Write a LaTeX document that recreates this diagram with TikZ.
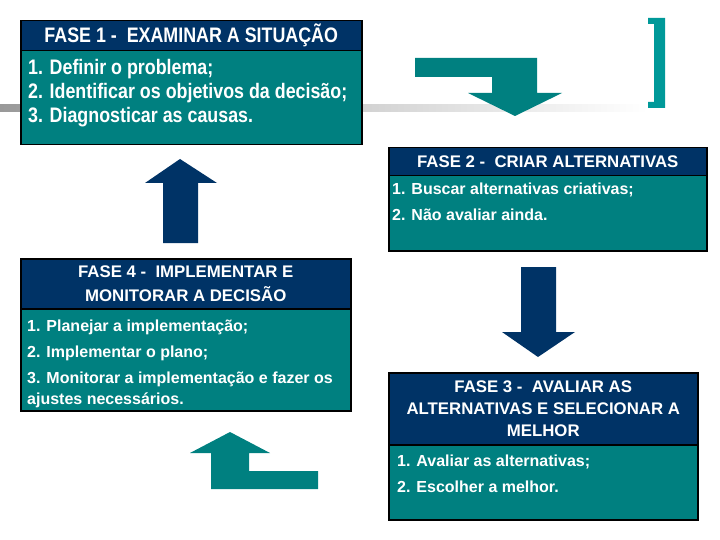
\documentclass[tikz,border=0pt]{standalone}
\usepackage{fontspec}
\setmainfont{Liberation Sans}
\newfontfamily\narrowsans[FakeStretch=0.85]{Liberation Sans}
\usepackage{tikz}
\usepackage{xcolor}
\definecolor{fasenavy}{RGB}{0,51,102}
\definecolor{faseteal}{RGB}{0,128,128}
\definecolor{bracketteal}{RGB}{0,153,153}

\begin{document}
\begin{tikzpicture}[x=1pt,y=-1pt]
			\useasboundingbox (0,0) rectangle (720,540);
			\tikzstyle{head}=[draw=black,line width=1.5pt,fill=fasenavy,text=white,inner sep=0pt,anchor=north west,align=center,font=\bfseries\fontsize{16.8}{22}\selectfont]
			\tikzstyle{body}=[draw=black,line width=1.5pt,fill=faseteal,inner sep=0pt,anchor=north west]
			\tikzstyle{listtext}=[inner sep=0pt,anchor=north west,align=left,text=white,font=\bfseries\fontsize{16}{21}\selectfont]
			% faded rule and bracket
			\shade[left color=black!40, right color=white] (0,105) rectangle (648,112);
			\fill[bracketteal] (648,18) -- (665,18) -- (665,108) -- (648,108) -- (648,102) -- (654,102) -- (654,24) -- (648,24) -- cycle;
			% block arrows
			\fill[faseteal] (415,58) -- (537,58) -- (537,93) -- (562,93) -- (515,116) -- (468,93) -- (492,93) -- (492,77) -- (415,77) -- cycle;%1->2
			\fill[fasenavy] (521,267) -- (556,267) -- (556,332) -- (575,332) -- (538,357) -- (502,332) -- (521,332) -- cycle;%2->3
			\fill[faseteal] (230,432) -- (270,453) -- (249,453) -- (249,471) -- (318,471) -- (318,489) -- (211,489) -- (211,453) -- (190,453) -- cycle;%3->4
			\fill[fasenavy] (180,159) -- (217,183) -- (198,183) -- (198,243) -- (163,243) -- (163,183) -- (145,183) -- cycle;%4->1
			% fase 1
			\node[head,minimum width=341,minimum height=30,font=\narrowsans\bfseries\fontsize{21}{22}\selectfont] (h1) at (20,20) {FASE 1 -\ \ EXAMINAR A SITUAÇÃO};
			\node[body,minimum width=341,minimum height=94] (b1) at (20,50) {};
			\node[listtext,font=\narrowsans\bfseries\fontsize{21}{24}\selectfont] (t1) at ([xshift=8pt,yshift=-9pt]b1.north west) {1. Definir o problema;\\2. Identificar os objetivos da decisão;\\3. Diagnosticar as causas.};
			% fase 2
			\node[head,minimum width=318,minimum height=28] (h2) at (388,147) {FASE 2 -\ \ CRIAR ALTERNATIVAS};
			\node[body,minimum width=318,minimum height=75] (b2) at (388,175) {};
			\node[listtext] (t2) at ([xshift=4pt,yshift=-8pt]b2.north west) {1. Buscar alternativas criativas;\\[5pt]2. Não avaliar ainda.};
			% fase 3
			\node[head,minimum width=309,minimum height=72] (h3) at (388,372) {FASE 3 -\ \ AVALIAR AS\\ALTERNATIVAS E SELECIONAR A\\MELHOR};
			\node[body,minimum width=309,minimum height=75] (b3) at (388,444) {};
			\node[listtext] (t3) at ([xshift=9pt,yshift=-11pt]b3.north west) {1. Avaliar as alternativas;\\[5pt]2. Escolher a melhor.};
			% fase 4
			\node[head,minimum width=330,minimum height=50] (h4) at (20,258) {FASE 4 -\ \ IMPLEMENTAR E\\[2pt]MONITORAR A DECISÃO};
			\node[body,minimum width=330,minimum height=102] (b4) at (20,308) {};
			\node[listtext] (t4) at ([xshift=7pt,yshift=-12pt]b4.north west) {1. Planejar a implementação;\\[5pt]2. Implementar o plano;\\[5pt]3. Monitorar a implementação e fazer os\\ajustes necessários.};
		\end{tikzpicture}
\end{document}
